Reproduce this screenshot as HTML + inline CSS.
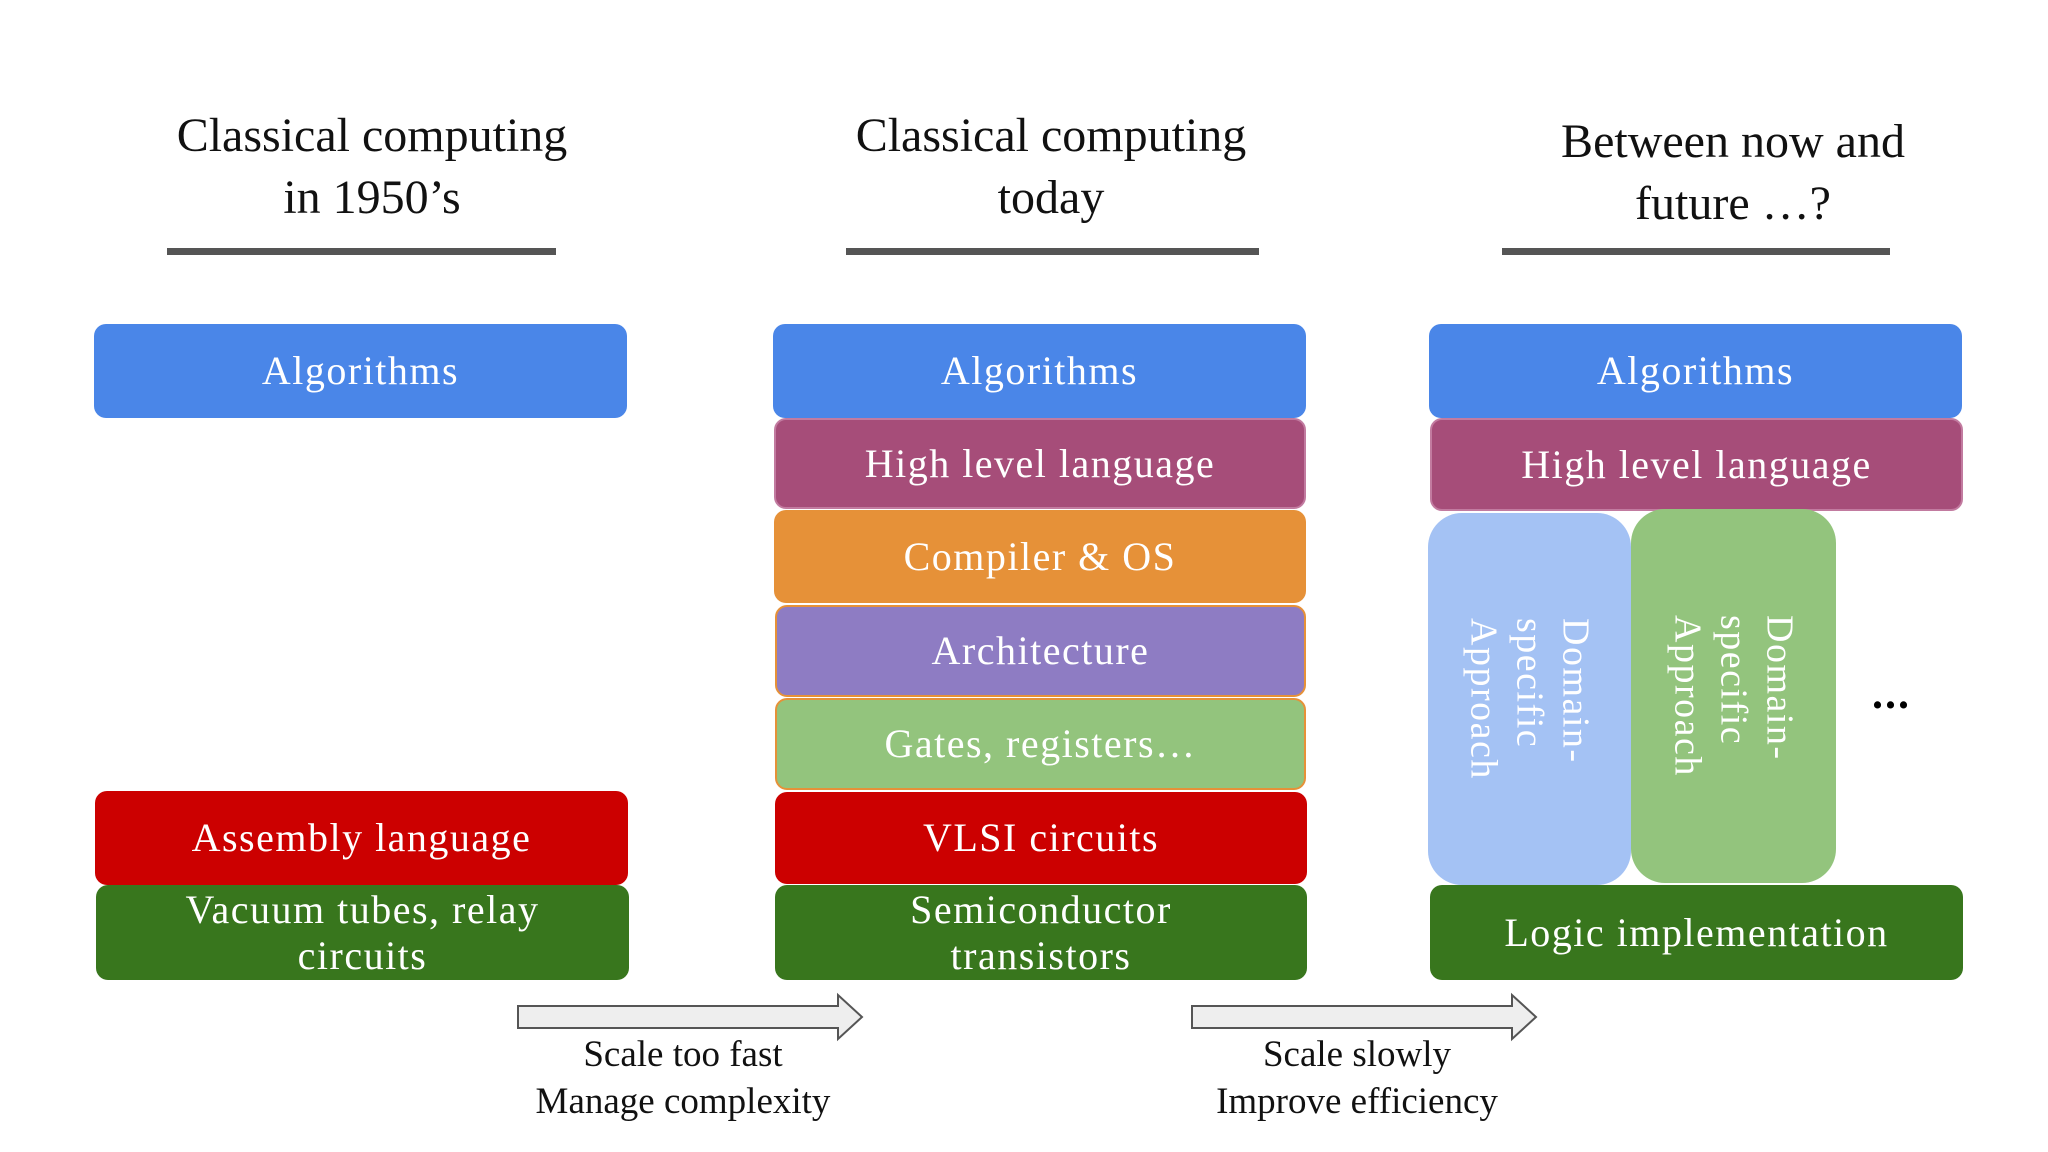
<!DOCTYPE html>
<html><head><meta charset="utf-8"><style>
body{margin:0;width:2048px;height:1152px;background:#fff;position:relative;overflow:hidden;font-family:"Liberation Serif","DejaVu Serif",serif}
.t{position:absolute;text-align:center;font-size:48px;color:#111;line-height:62px;transform:translateX(-50%);white-space:nowrap}
.u{position:absolute;height:7px;background:#555}
.b{position:absolute;border-radius:12px;color:#fff;display:flex;align-items:center;justify-content:center;text-align:center;font-size:40px;letter-spacing:1.5px;line-height:46px;box-sizing:border-box}
.v{position:absolute;border-radius:34px;color:#fff;display:flex;align-items:center;justify-content:center;font-size:38px;letter-spacing:1.5px;line-height:46px}
.v span{writing-mode:vertical-rl}
.l{position:absolute;font-size:37px;color:#111;transform:translateX(-50%);white-space:nowrap;text-align:center;line-height:47px}
</style></head><body>
<div class="t" style="left:372px;top:105px">Classical computing<br>in 1950’s</div>
<div class="t" style="left:1051px;top:105px">Classical computing<br>today</div>
<div class="t" style="left:1733px;top:111px">Between now and<br>future …?</div>
<div class="u" style="left:167px;top:248px;width:389px"></div>
<div class="u" style="left:846px;top:248px;width:413px"></div>
<div class="u" style="left:1502px;top:248px;width:388px"></div>

<div class="b" style="left:94px;top:324px;width:533px;height:94px;background:#4a86e8">Algorithms</div>
<div class="b" style="left:95px;top:791px;width:533px;height:94px;background:#cc0000">Assembly language</div>
<div class="b" style="left:96px;top:885px;width:533px;height:95px;background:#38761d">Vacuum tubes, relay<br>circuits</div>

<div class="b" style="left:773px;top:324px;width:533px;height:94px;background:#4a86e8">Algorithms</div>
<div class="b" style="left:774px;top:418px;width:532px;height:91px;background:#a64d79;border:2px solid #c27ba0">High level language</div>
<div class="b" style="left:774px;top:510px;width:532px;height:93px;background:#e69138">Compiler &amp; OS</div>
<div class="b" style="left:775px;top:605px;width:531px;height:92px;background:#8e7cc3;border:2px solid #e69138">Architecture</div>
<div class="b" style="left:775px;top:698px;width:531px;height:92px;background:#93c47d;border:2px solid #e69138">Gates, registers…</div>
<div class="b" style="left:775px;top:792px;width:532px;height:92px;background:#cc0000">VLSI circuits</div>
<div class="b" style="left:775px;top:885px;width:532px;height:95px;background:#38761d">Semiconductor<br>transistors</div>

<div class="b" style="left:1429px;top:324px;width:533px;height:94px;background:#4a86e8">Algorithms</div>
<div class="b" style="left:1430px;top:418px;width:533px;height:93px;background:#a64d79;border:2px solid #c27ba0">High level language</div>
<div class="v" style="left:1428px;top:513px;width:203px;height:372px;background:#a4c2f4"><span>Domain-<br>specific<br>Approach</span></div>
<div class="v" style="left:1631px;top:509px;width:205px;height:374px;background:#93c47d"><span>Domain-<br>specific<br>Approach</span></div>
<div style="position:absolute;left:1872px;top:668px;font-size:44px;font-weight:bold;color:#000;letter-spacing:2px">...</div>
<div class="b" style="left:1430px;top:885px;width:533px;height:95px;background:#38761d">Logic implementation</div>

<svg style="position:absolute;left:0;top:0" width="2048" height="1152">
<polygon points="518,1006 838,1006 838,995 862,1017 838,1039 838,1028 518,1028" fill="#eee" stroke="#555" stroke-width="2"/>
<polygon points="1192,1006 1512,1006 1512,995 1536,1017 1512,1039 1512,1028 1192,1028" fill="#eee" stroke="#555" stroke-width="2"/>
</svg>
<div class="l" style="left:683px;top:1031px">Scale too fast<br>Manage complexity</div>
<div class="l" style="left:1357px;top:1031px">Scale slowly<br>Improve efficiency</div>
</body></html>
